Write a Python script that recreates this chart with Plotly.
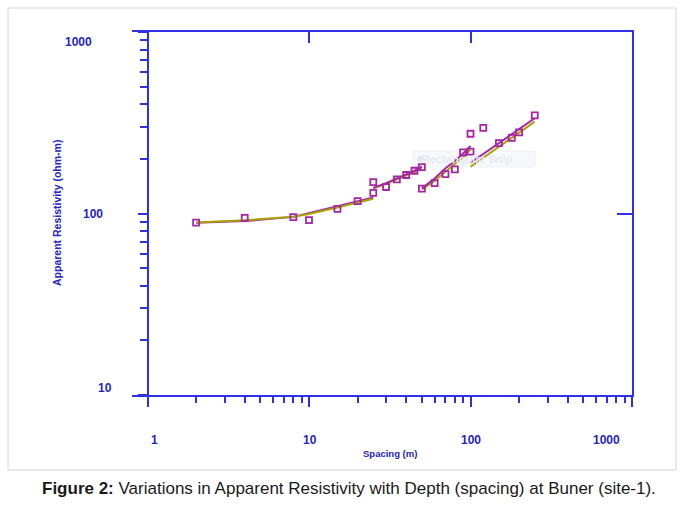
import plotly.graph_objects as go

# ---------------- data ----------------
spacing_obs = [2, 4, 8, 10, 15, 20, 25,
               25, 30, 35, 40, 45, 50,
               50, 60, 70, 80, 90, 100,
               100, 120, 150, 180, 200, 250]
rho_obs = [89, 94.5, 95.5, 92, 106, 117, 130,
           149, 140, 154, 163, 172, 180,
           137, 147, 165, 175, 217, 219,
           275, 296, 244, 261, 280, 347]

seg1_x = [2, 4, 8, 10, 15, 20, 25]
seg1_olive = [89.2, 91.8, 96.0, 99.5, 108.0, 115.0, 120.5]
seg1_mag = [89.0, 90.8, 95.8, 100.5, 109.8, 117.0, 122.5]

seg2_x = [25, 30, 35, 40, 45, 50]
seg2_olive = [137.6, 145.4, 154.3, 162, 169, 177.5]
seg2_mag = [138.5, 147, 156.3, 164.5, 172, 181]

seg3_x = [50, 60, 70, 80, 90, 100]
seg3_olive = [135.9, 151, 169.8, 187.5, 205, 225.8]
seg3_mag = [137.6, 156, 177.5, 194.6, 214, 235.5]

seg4_x = [100, 150, 250]
seg4_olive = [181, 233.4, 320.5]
seg4_mag = [190.5, 243.6, 334.6]

x_major = [1, 10, 100, 1000]
x_minor = [2, 3, 4, 5, 6, 7, 8, 9, 20, 30, 40, 50, 60, 70, 80, 90,
           200, 300, 400, 500, 600, 700, 800, 900]
y_major = [10, 100, 1000]
y_minor = [20, 30, 40, 50, 60, 70, 80, 90, 200, 300, 400, 500, 600, 700, 800, 900]
x_labels = ["1", "10", "100", "1000"]
y_labels = ["10", "100", "1000"]

# ---------------- styles ----------------
BLUE = "#3030E6"
LBLUE = "#2424C8"
MAG = "#A626A6"
OLIVE = "#A6A600"

fig = go.Figure()

segments = [(seg1_x, seg1_olive, seg1_mag), (seg2_x, seg2_olive, seg2_mag),
            (seg3_x, seg3_olive, seg3_mag), (seg4_x, seg4_olive, seg4_mag)]
for i, (sx, so, sm) in enumerate(segments):
    tr_o = go.Scatter(x=sx, y=so, mode="lines",
                      line=dict(color=OLIVE, width=2), showlegend=False, hoverinfo="skip")
    tr_m = go.Scatter(x=sx, y=sm, mode="lines",
                      line=dict(color=MAG, width=2), showlegend=False, hoverinfo="skip")
    if i == 0:
        fig.add_trace(tr_m)
        fig.add_trace(tr_o)
    else:
        fig.add_trace(tr_o)
        fig.add_trace(tr_m)

fig.add_trace(go.Scatter(x=spacing_obs, y=rho_obs, mode="markers",
                         marker=dict(symbol="square-open", size=6, color=MAG,
                                     line=dict(color=MAG, width=1.8)),
                         showlegend=False))

# dummy trace to create the mirrored frame axes (top / right)
fig.add_trace(go.Scatter(x=[None], y=[None], xaxis="x2", yaxis="y2",
                         showlegend=False, hoverinfo="skip"))

# plot area in pixels: left 132, right 632, top 32, bottom 395
L, R, T, B = 132, 632, 32, 395
W, H = R - L, B - T


def px(xp):
    return (xp - L) / W


def py(yp):
    return (B - yp) / H


xr = [-(147.5 - L) / 161.5, 3]

fig.update_layout(
    width=683, height=508,
    margin=dict(l=L, r=683 - R, t=T, b=508 - B),
    paper_bgcolor="white", plot_bgcolor="white",
    xaxis=dict(type="log", range=xr, showgrid=False, zeroline=False,
               showline=True, linecolor=BLUE, linewidth=2,
               tickmode="array", tickvals=x_major, ticks="outside",
               ticklen=10, tickwidth=2, tickcolor=BLUE, showticklabels=False,
               minor=dict(tickmode="array", tickvals=x_minor, ticks="outside",
                          ticklen=6, tickwidth=1.5, tickcolor=BLUE)),
    yaxis=dict(type="log", range=[1, 3], showgrid=False, zeroline=False,
               anchor="free", position=(147.5 - L) / W,
               showline=True, linecolor=BLUE, linewidth=2,
               tickmode="array", tickvals=y_major, ticks="outside",
               ticklen=9, tickwidth=2, tickcolor=BLUE, showticklabels=False,
               minor=dict(tickmode="array", tickvals=y_minor, ticks="outside",
                          ticklen=7, tickwidth=1.5, tickcolor=BLUE)),
    xaxis2=dict(type="log", range=xr, overlaying="x", side="top", anchor="y2",
                showgrid=False, zeroline=False, showline=True, linecolor=BLUE,
                linewidth=2, tickmode="array", tickvals=[10, 100], ticks="inside",
                ticklen=11, tickwidth=2, tickcolor=BLUE, showticklabels=False),
    yaxis2=dict(type="log", range=[1, 3], overlaying="y", side="right", anchor="x2",
                showgrid=False, zeroline=False, showline=True, linecolor=BLUE,
                linewidth=2, tickmode="array", tickvals=[100], ticks="inside",
                ticklen=15, tickwidth=2, tickcolor=BLUE, showticklabels=False),
)

shapes = []
# outer light frame of the figure image
shapes.append(dict(type="rect", xref="paper", yref="paper",
                   x0=px(8), x1=px(676), y0=py(470), y1=py(8),
                   line=dict(color="#D4D4D4", width=1), fillcolor="rgba(0,0,0,0)",
                   layer="below"))
# faint screen-snip box
shapes.append(dict(type="rect", xref="paper", yref="paper",
                   x0=px(413), x1=px(535), y0=py(167), y1=py(151),
                   line=dict(color="#EDF0F6", width=1), fillcolor="#F6F8FC",
                   layer="below"))
shapes.append(dict(type="circle", xref="paper", yref="paper",
                   x0=px(417.5), x1=px(422.5), y0=py(161.5), y1=py(156.5),
                   line=dict(color="#E2E5EC", width=1), fillcolor="#E2E5EC",
                   layer="below"))
fig.update_layout(shapes=shapes)

ann = []
FONT_T = "Arial, Liberation Sans, sans-serif"
for lab, xc in zip(x_labels, [154.5, 309.5, 471, 606]):
    ann.append(dict(text=f"<b>{lab}</b>", x=px(xc), y=py(439.5), xref="paper", yref="paper",
                    showarrow=False, xanchor="center", yanchor="middle",
                    font=dict(family=FONT_T, size=12, color=LBLUE)))
for lab, xc, yc in zip(y_labels, [105, 93, 78.5], [388, 214, 42]):
    ann.append(dict(text=f"<b>{lab}</b>", x=px(xc), y=py(yc), xref="paper", yref="paper",
                    showarrow=False, xanchor="center", yanchor="middle",
                    font=dict(family=FONT_T, size=12, color=LBLUE)))
ann.append(dict(text="<b>Spacing (m)</b>", x=px(390), y=py(453.5), xref="paper", yref="paper",
                showarrow=False, xanchor="center", yanchor="middle",
                font=dict(family=FONT_T, size=9.5, color=LBLUE)))
ann.append(dict(text="<b>Apparent Resistivity (ohm-m)</b>", x=px(57), y=py(213),
                xref="paper", yref="paper", textangle=-90,
                showarrow=False, xanchor="center", yanchor="middle",
                font=dict(family=FONT_T, size=10.5, color=LBLUE)))
ann.append(dict(text="<b>Rectangular Snip</b>", x=px(467), y=py(159), xref="paper", yref="paper",
                showarrow=False, xanchor="center", yanchor="middle",
                font=dict(family=FONT_T, size=11, color="#E6E9EF")))
ann.append(dict(text="<b>Figure 2:</b> Variations in Apparent Resistivity with Depth (spacing) at Buner (site-1).",
                x=px(348.5), y=py(488), xref="paper", yref="paper",
                showarrow=False, xanchor="center", yanchor="middle",
                font=dict(family="Liberation Sans, Arial, sans-serif",
                          size=17, color="#1A1A1A")))
fig.update_layout(annotations=ann)

fig.write_html("out.html", config={"displayModeBar": False},
               post_script="document.body.style.margin='0';document.body.style.padding='0';")
